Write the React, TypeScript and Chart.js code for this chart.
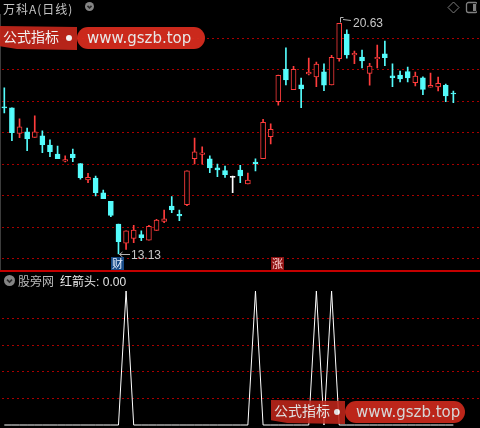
import React, { useEffect, useRef } from 'react';
import { Chart, registerables } from 'chart.js';

Chart.register(...registerables);

// ---- data -------------------------------------------------------------
const stockTitle = '万科A(日线)';
const indicatorSource = '股旁网';
const indicatorName = '红箭头';

const openPrices = [
  17.91, 17.88, 17.05, 17.1, 16.92, 16.97, 16.67, 16.38, 16.15, 16.38,
  16.07, 15.54, 15.6, 15.12, 14.84, 14.1, 13.48, 13.64, 13.76, 13.58,
  13.9, 14.19, 14.69, 14.42, 14.73, 16.23, 16.37, 16.22, 15.93, 15.84,
  15.62, 15.86, 15.41, 16.12, 16.23, 16.94, 18.08, 19.14, 18.47, 18.63,
  18.98, 18.89, 19.05, 18.63, 19.48, 20.28, 19.6, 19.53, 19.0, 19.48,
  19.64, 18.92, 18.95, 19.06, 18.7, 18.86, 18.55, 18.56, 18.61, 18.36,
];
const highPrices = [
  18.53, 17.88, 17.52, 17.22, 17.62, 17.13, 16.84, 16.64, 16.32, 16.54,
  16.07, 15.75, 15.66, 15.21, 14.84, 14.1, 13.88, 14.06, 13.88, 14.06,
  14.26, 14.56, 15.0, 14.56, 15.83, 16.9, 16.61, 16.32, 16.05, 15.99,
  15.66, 16.01, 15.76, 16.22, 17.51, 17.36, 18.95, 19.83, 19.23, 18.85,
  19.5, 19.37, 19.31, 19.59, 20.63, 20.42, 19.73, 19.76, 19.33, 19.92,
  20.05, 19.31, 19.08, 19.21, 19.04, 18.89, 19.01, 18.88, 18.65, 18.43,
];
const lowPrices = [
  17.72, 16.81, 16.91, 16.49, 16.92, 16.42, 16.29, 16.23, 16.12, 16.13,
  15.56, 15.45, 15.02, 14.93, 14.34, 13.13, 13.28, 13.5, 13.56, 13.58,
  13.9, 14.15, 14.47, 14.21, 14.7, 16.06, 16.05, 15.77, 15.64, 15.62,
  15.12, 15.45, 15.41, 15.83, 16.23, 16.71, 17.97, 18.63, 18.47, 17.89,
  18.95, 18.57, 18.44, 18.63, 19.4, 19.5, 19.32, 19.18, 18.62, 19.18,
  19.25, 18.57, 18.72, 18.72, 18.59, 18.31, 18.55, 18.43, 18.08, 18.05,
];
const closePrices = [
  17.88, 17.07, 17.26, 16.87, 17.1, 16.68, 16.46, 16.23, 16.2, 16.26,
  15.61, 15.62, 15.12, 14.93, 14.38, 13.53, 13.88, 13.91, 13.66, 14.03,
  14.23, 14.27, 14.56, 14.37, 15.83, 16.45, 16.42, 15.93, 15.86, 15.71,
  15.62, 15.67, 15.53, 16.07, 17.41, 17.18, 18.94, 18.79, 19.13, 18.5,
  19.04, 19.3, 18.62, 19.52, 20.63, 19.6, 19.65, 19.41, 19.24, 19.52,
  19.51, 18.86, 18.82, 18.85, 18.91, 18.48, 18.61, 18.68, 18.27, 18.33,
];

// 红箭头 signal (0 / 1)
const redArrow = [
  0, 0, 0, 0, 0, 0, 0, 0, 0, 0,
  0, 0, 0, 0, 0, 0, 1, 0, 0, 0,
  0, 0, 0, 0, 0, 0, 0, 0, 0, 0,
  0, 0, 0, 1, 0, 0, 0, 0, 0, 0,
  0, 1, 0, 1, 0, 0, 0, 0, 0, 0,
  0, 0, 0, 0, 0, 0, 0, 0, 0, 0,
];

const priceGrid = [20.15, 19.13, 18.11, 17.08, 16.06, 15.04, 14.02, 12.99];
const signalGrid = [0.2, 0.4, 0.6, 0.8];
const priceMin = 12.577;
const priceMax = 21.387;
const slotCount = 63;

const markerIndex = [15, 36];
const markerText = ['财', '涨'];
const markerFill = ['#174a86', '#8e1212'];
const markerInk = ['#e8f0ff', '#ffd6d6'];

// ---- style ------------------------------------------------------------
const UP = '#ff3c3c';
const DOWN = '#54fcfc';
const FLAT = '#ffffff';
const GRID = '#a80000';
const CJK = '"Noto Sans CJK SC", "Noto Sans", sans-serif';
const plotPadding = { left: 0.5, right: -1 };

const candleColor = openPrices.map((o, i) =>
  closePrices[i] > o ? UP : closePrices[i] < o ? DOWN : FLAT
);
const bodyFill = openPrices.map((o, i) => (closePrices[i] > o ? '#000000' : candleColor[i]));
const slotLabels = Array.from({ length: slotCount }, (_, i) => String(i + 1));

const dottedGrid = (values: number[]) => ({
  id: 'dottedGrid',
  beforeDatasetsDraw(chart: any) {
    const { ctx, width } = chart;
    const y = chart.scales.y;
    ctx.save();
    ctx.strokeStyle = GRID;
    ctx.lineWidth = 1;
    ctx.setLineDash([2, 3]);
    values.forEach((v) => {
      const py = Math.round(y.getPixelForValue(v)) + 0.5;
      ctx.beginPath();
      ctx.moveTo(2, py);
      ctx.lineTo(width, py);
      ctx.stroke();
    });
    ctx.restore();
  },
});

// extreme price labels and event markers on the candle panel
const priceNotes = {
  id: 'priceNotes',
  afterDatasetsDraw(chart: any) {
    const { ctx } = chart;
    const x = chart.scales.x;
    const y = chart.scales.y;
    let hi = 0;
    let lo = 0;
    highPrices.forEach((v, i) => { if (v > highPrices[hi]) hi = i; });
    lowPrices.forEach((v, i) => { if (v < lowPrices[lo]) lo = i; });

    ctx.save();
    ctx.strokeStyle = '#b4b4b4';
    ctx.fillStyle = '#c8c8c8';
    ctx.lineWidth = 1;
    ctx.font = '12px "Liberation Sans", Arial, sans-serif';
    ctx.textBaseline = 'middle';

    // highest
    const hx = Math.round(x.getPixelForValue(hi));
    const hy = Math.round(y.getPixelForValue(highPrices[hi]));
    ctx.beginPath();
    ctx.moveTo(hx + 1.5, hy - 0.5);
    ctx.lineTo(hx + 1.5, hy - 5.5);
    ctx.lineTo(hx + 4.5, hy - 5.5);
    ctx.moveTo(hx + 4, hy - 3.5);
    ctx.lineTo(hx + 12, hy - 2.5);
    ctx.stroke();
    ctx.fillText(highPrices[hi].toFixed(2), hx + 14, hy + 0.5);

    // lowest
    const lx = Math.round(x.getPixelForValue(lo));
    const ly = Math.round(y.getPixelForValue(lowPrices[lo])) + 0.5;
    ctx.beginPath();
    ctx.moveTo(lx + 1.5, ly);
    ctx.lineTo(lx + 12, ly);
    ctx.moveTo(lx + 1.5, ly);
    ctx.lineTo(lx + 4.5, ly - 2.5);
    ctx.moveTo(lx + 1.5, ly);
    ctx.lineTo(lx + 4.5, ly + 2.5);
    ctx.stroke();
    ctx.fillText(lowPrices[lo].toFixed(2), lx + 13, ly + 1);

    // event markers along the bottom edge
    ctx.font = `11px ${CJK}`;
    ctx.textAlign = 'center';
    markerIndex.forEach((idx, k) => {
      const cx = Math.round(x.getPixelForValue(idx));
      ctx.fillStyle = markerFill[k];
      ctx.fillRect(cx - 7, 257, 13, 13);
      ctx.fillStyle = markerInk[k];
      ctx.fillText(markerText[k], cx - 0.5, 264);
    });
    ctx.restore();
  },
};

const sharedOptions = {
  animation: false as const,
  responsive: false,
  devicePixelRatio: 1,
  events: [] as any[],
  plugins: { legend: { display: false }, tooltip: { enabled: false } },
};

function Badge(props: {
  left: number; top: number; ribbonW: number; pillW: number; height: number;
  textPad: number; opacity: number;
}) {
  const { left, top, ribbonW, pillW, height, textPad, opacity } = props;
  return (
    <div style={{ position: 'absolute', left, top, opacity, height }}>
      <div
        style={{
          position: 'absolute', left: 0, top: 0, width: ribbonW, height,
          background: 'rgb(192,38,27)',
          clipPath: 'polygon(0 0, 100% 4%, 100% 100%, 22% 96%, 0 84%)',
        }}
      />
      <div
        style={{
          position: 'absolute', left: 3, top: 0, height, lineHeight: `${height}px`,
          color: '#ffffff', font: `14px ${CJK}`, whiteSpace: 'nowrap',
        }}
      >
        公式指标
      </div>
      <div
        style={{
          position: 'absolute', left: ribbonW - 11, top: height / 2 - 3,
          width: 6, height: 6, borderRadius: 3, background: '#ffffff',
        }}
      />
      <div
        style={{
          position: 'absolute', left: ribbonW, top: 1, width: pillW, height: height - 2,
          borderRadius: (height - 2) / 2, background: 'rgb(214,44,30)',
          color: '#f4f4f4', font: '15px "DejaVu Sans", sans-serif',
          lineHeight: `${height - 2}px`, paddingLeft: textPad, boxSizing: 'border-box',
          whiteSpace: 'nowrap',
        }}
      >
        www.gszb.top
      </div>
    </div>
  );
}

function ChevronDot({ cx, cy, r }: { cx: number; cy: number; r: number }) {
  return (
    <svg
      width={r * 2 + 2} height={r * 2 + 2}
      style={{ position: 'absolute', left: cx - r - 1, top: cy - r - 1 }}
    >
      <circle cx={r + 1} cy={r + 1} r={r} fill="#858585" />
      <polyline
        points={`${r + 1 - r * 0.45},${r + 1 - r * 0.15} ${r + 1},${r + 1 + r * 0.3} ${r + 1 + r * 0.45},${r + 1 - r * 0.15}`}
        fill="none" stroke="#2a2a2a" strokeWidth={1.6}
      />
    </svg>
  );
}

export default function App() {
  const topRef = useRef<HTMLCanvasElement>(null);
  const bottomRef = useRef<HTMLCanvasElement>(null);

  useEffect(() => {
    document.body.style.margin = '0';
    document.body.style.background = '#000';

    const bodies = openPrices.map((o, i) => [Math.min(o, closePrices[i]), Math.max(o, closePrices[i])]);
    const wicks = lowPrices.map((l, i) => [l, highPrices[i]]);

    // bodies and wicks overlap on the same slot (not grouped side by side)
    const top = new Chart(topRef.current as HTMLCanvasElement, {
      type: 'bar',
      data: {
        labels: slotLabels,
        datasets: [
          {
            data: bodies as any,
            backgroundColor: bodyFill,
            borderColor: candleColor,
            borderWidth: 1,
            borderSkipped: false,
            grouped: false,
            maxBarThickness: 5,
            barPercentage: 1,
            categoryPercentage: 1,
            minBarLength: 1,
            order: 0,
          },
          {
            data: wicks as any,
            backgroundColor: candleColor,
            borderWidth: 0,
            grouped: false,
            maxBarThickness: 1,
            barPercentage: 1,
            categoryPercentage: 1,
            order: 1,
          },
        ],
      },
      options: {
        ...sharedOptions,
        layout: { padding: { ...plotPadding, top: 0, bottom: 0 } },
        scales: {
          x: { display: false, offset: true },
          y: { display: false, min: priceMin, max: priceMax },
        },
      } as any,
      plugins: [dottedGrid(priceGrid), priceNotes],
    });

    const bottom = new Chart(bottomRef.current as HTMLCanvasElement, {
      type: 'line',
      data: {
        labels: slotLabels,
        datasets: [
          {
            data: redArrow,
            borderColor: '#ffffff',
            borderWidth: 1,
            pointRadius: 0,
            tension: 0,
            fill: false,
            clip: false as any,
          },
        ],
      },
      options: {
        ...sharedOptions,
        layout: { padding: { ...plotPadding, top: 19, bottom: 3 } },
        scales: {
          x: { display: false, offset: true },
          y: { display: false, min: 0, max: 1 },
        },
      } as any,
      plugins: [dottedGrid(signalGrid)],
    });

    return () => {
      top.destroy();
      bottom.destroy();
    };
  }, []);

  const lastSignal = redArrow[redArrow.length - 1].toFixed(2);

  return (
    <div
      style={{
        position: 'fixed', left: 0, top: 0, width: 480, height: 428,
        background: '#000', overflow: 'hidden',
      }}
    >
      <canvas ref={topRef} width={480} height={271} style={{ position: 'absolute', left: 0, top: 0 }} />
      <canvas ref={bottomRef} width={480} height={156} style={{ position: 'absolute', left: 0, top: 272 }} />

      {/* panel frame */}
      <div style={{ position: 'absolute', left: 0, top: 14, width: 1, height: 256, background: '#3c3c3c' }} />
      <div style={{ position: 'absolute', left: 0, top: 270, width: 480, height: 2, background: '#c40000' }} />

      {/* candle panel header */}
      <div
        style={{
          position: 'absolute', left: 3, top: 0, lineHeight: '14px', color: '#c4c4c4',
          font: `12px ${CJK}`, letterSpacing: 1, whiteSpace: 'nowrap',
        }}
      >
        {stockTitle}
      </div>
      <ChevronDot cx={89} cy={6.5} r={4.5} />
      <svg width={30} height={16} style={{ position: 'absolute', left: 447, top: 0 }}>
        <polygon points="6.5,2 12,7.5 6.5,13 1,7.5" fill="none" stroke="#7c7c7c" strokeWidth={1} />
        <rect x={19.5} y={2.5} width={11} height={10} rx={2} fill="none" stroke="#808080" strokeWidth={1.3} />
        <rect x={26} y={4} width={3} height={7} fill="#808080" />
      </svg>

      {/* indicator panel header */}
      <ChevronDot cx={9} cy={280} r={5.5} />
      <div
        style={{
          position: 'absolute', left: 18, top: 272, lineHeight: '16px', color: '#b8b8b8',
          font: `12px ${CJK}`, whiteSpace: 'nowrap',
        }}
      >
        {indicatorSource}
        <span style={{ color: '#e6e6e6', marginLeft: 6 }}>{indicatorName}</span>
        <span style={{ color: '#e6e6e6', font: '12px "Liberation Sans", Arial, sans-serif' }}>: {lastSignal}</span>
      </div>

      <Badge left={0} top={26} ribbonW={77} pillW={128} height={24} textPad={10} opacity={0.95} />
      <Badge left={271} top={400} ribbonW={74} pillW={120} height={24} textPad={11} opacity={0.88} />
    </div>
  );
}
